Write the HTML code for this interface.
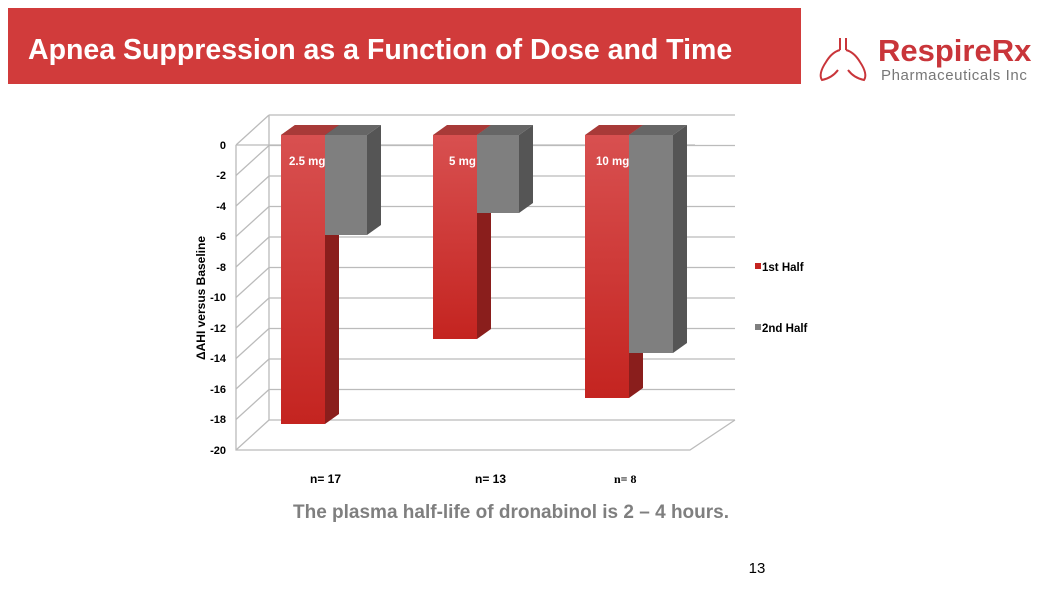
<!DOCTYPE html>
<html><head><meta charset="utf-8"><style>
body{margin:0;width:1042px;height:589px;background:#fff;overflow:hidden;position:relative;font-family:"Liberation Sans",sans-serif}
.hdr{position:absolute;left:8px;top:8px;width:793px;height:76px;background:#d13b3b}
.hdr span{position:absolute;left:20px;top:26px;color:#fff;font-weight:bold;font-size:28.5px;white-space:nowrap}
</style></head><body>
<div class="hdr"><span>Apnea Suppression as a Function of Dose and Time</span></div>
<svg width="1042" height="589" style="position:absolute;left:0;top:0" font-family="Liberation Sans, sans-serif">
<defs>
<linearGradient id="r" x1="0" y1="0" x2="0" y2="1"><stop offset="0" stop-color="#d85050"/><stop offset="1" stop-color="#c42420"/></linearGradient>
</defs>
<g stroke="#c9353a" stroke-width="2" fill="none">
<path d="M840 38 V50 M846 38 V50 M840 50 Q832 52 826 62 Q818 74 822 80 Q832 78 838 70 M846 50 Q854 52 860 62 Q868 74 864 80 Q854 78 848 70"/>
</g>
<text x="878" y="61" font-size="31" font-weight="bold" fill="#c9353a">RespireRx</text>
<text x="881" y="80" font-size="15" fill="#777" letter-spacing="0.6">Pharmaceuticals Inc</text>
<g stroke="#bbb" stroke-width="1.3" fill="none">
<path d="M269 115 V420"/>
<path d="M269 115H735M269 145.5H735M269 176H735M269 206.5H735M269 237H735M269 267.5H735M269 298H735M269 328.5H735M269 359H735M269 389.5H735M269 420H735"/>
<path d="M236 145L269 115M236 175.5L269 145.5M236 206L269 176M236 236.5L269 206.5M236 267L269 237M236 297.5L269 267.5M236 328L269 298M236 358.5L269 328.5M236 389L269 359M236 419.5L269 389.5M236 450L269 420"/>
<path d="M236 145V450H690L735 420"/>
<path d="M236 145H695"/>
</g>
<g font-size="11" font-weight="bold" text-anchor="end" fill="#000">
<text x="226" y="149">0</text><text x="226" y="179">-2</text><text x="226" y="210">-4</text><text x="226" y="240">-6</text><text x="226" y="271">-8</text><text x="226" y="301">-10</text><text x="226" y="332">-12</text><text x="226" y="362">-14</text><text x="226" y="393">-16</text><text x="226" y="423">-18</text><text x="226" y="454">-20</text>
</g>
<text transform="translate(205,298) rotate(-90)" text-anchor="middle" font-size="12" font-weight="bold">ΔAHI versus Baseline</text>
<g>
<polygon points="281,135 295,125 339,125 339,414 325,424 325,135" fill="#8a1e1c"/>
<polygon points="281,135 295,125 339,125 325,135" fill="#a83a38"/>
<rect x="281" y="135" width="44" height="289" fill="url(#r)"/>
<polygon points="367,135 381,125 381,225 367,235" fill="#555"/>
<polygon points="325,135 339,125 381,125 367,135" fill="#666"/>
<rect x="325" y="135" width="42" height="100" fill="#7f7f7f"/>

<polygon points="477,135 491,125 491,329 477,339" fill="#8a1e1c"/>
<polygon points="433,135 447,125 491,125 477,135" fill="#a83a38"/>
<rect x="433" y="135" width="44" height="204" fill="url(#r)"/>
<polygon points="519,135 533,125 533,203 519,213" fill="#555"/>
<polygon points="477,135 491,125 533,125 519,135" fill="#666"/>
<rect x="477" y="135" width="42" height="78" fill="#7f7f7f"/>

<polygon points="629,135 643,125 643,388 629,398" fill="#8a1e1c"/>
<polygon points="585,135 599,125 643,125 629,135" fill="#a83a38"/>
<rect x="585" y="135" width="44" height="263" fill="url(#r)"/>
<polygon points="673,135 687,125 687,343 673,353" fill="#555"/>
<polygon points="629,135 643,125 687,125 673,135" fill="#666"/>
<rect x="629" y="135" width="44" height="218" fill="#7f7f7f"/>
</g>
<g font-size="11.5" font-weight="bold" fill="#fff">
<text x="289" y="165">2.5 mg</text><text x="449" y="165">5 mg</text><text x="596" y="165">10 mg</text>
</g>
<rect x="755" y="263" width="6" height="6" fill="#c42420"/>
<text x="762" y="271" font-size="11.5" font-weight="bold">1st Half</text>
<rect x="755" y="324" width="6" height="6" fill="#7f7f7f"/>
<text x="762" y="332" font-size="11.5" font-weight="bold">2nd Half</text>
<g font-size="12" font-weight="bold">
<text x="310" y="483">n= 17</text><text x="475" y="483">n= 13</text><text x="614" y="483" font-family="Liberation Serif, serif">n= 8</text>
</g>
<text x="511" y="518" text-anchor="middle" font-size="19" font-weight="bold" fill="#7f7f7f">The plasma half-life of dronabinol is 2 – 4 hours.</text>
<text x="757" y="573" text-anchor="middle" font-size="15">13</text>
</svg>
</body></html>
